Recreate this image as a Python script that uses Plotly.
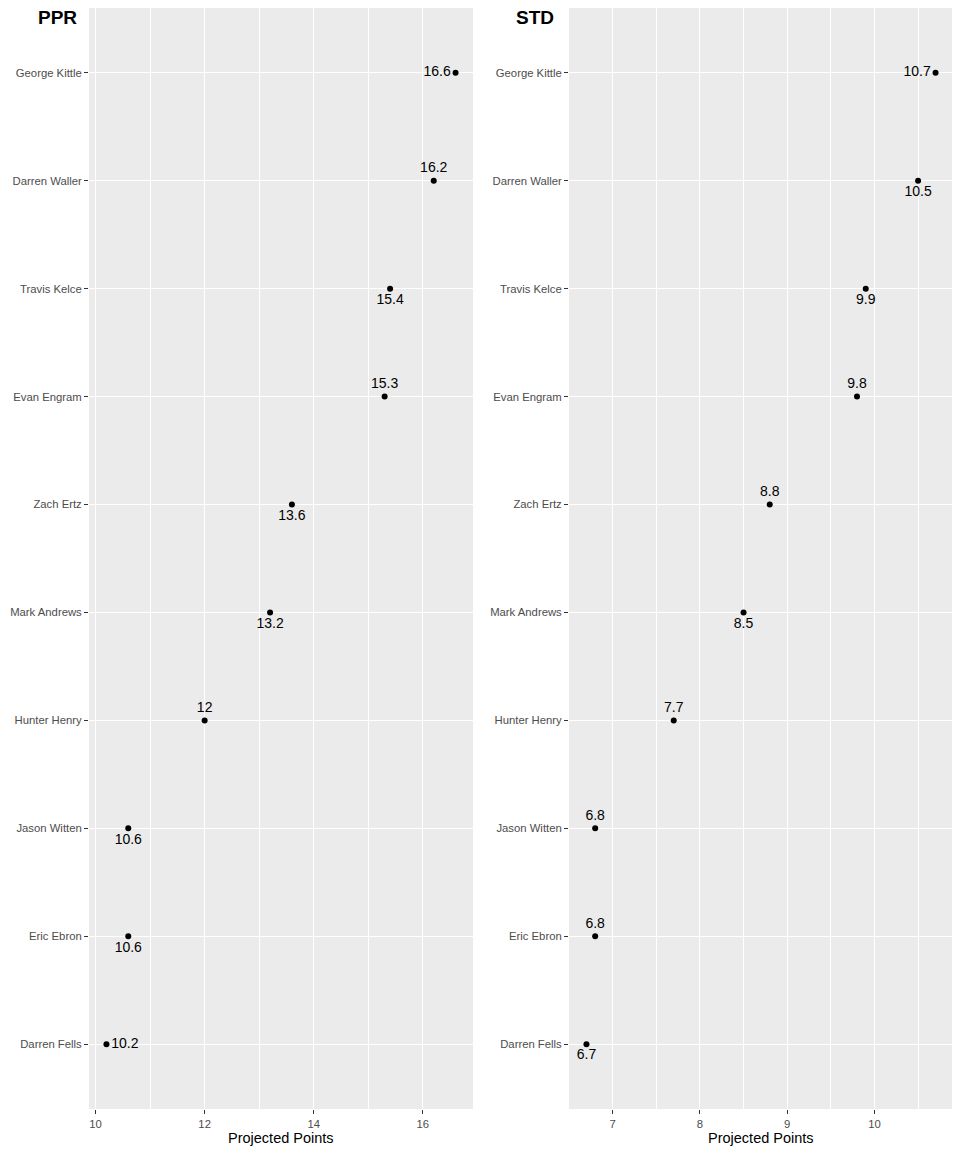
import plotly.graph_objects as go

players = ["George Kittle", "Darren Waller", "Travis Kelce", "Evan Engram", "Zach Ertz",
           "Mark Andrews", "Hunter Henry", "Jason Witten", "Eric Ebron", "Darren Fells"]
ppr = [16.6, 16.2, 15.4, 15.3, 13.6, 13.2, 12.0, 10.6, 10.6, 10.2]
std = [10.7, 10.5, 9.9, 9.8, 8.8, 8.5, 7.7, 6.8, 6.8, 6.7]
ppr_ticks = [10, 12, 14, 16]
std_ticks = [7, 8, 9, 10]
ppr_minor = [11, 13, 15]
std_minor = [7.5, 8.5, 9.5, 10.5]
ppr_label_pos = ["middle left", "top center", "bottom center", "top center", "bottom center",
                 "bottom center", "top center", "bottom center", "bottom center", "middle right"]
std_label_pos = ["middle left", "bottom center", "bottom center", "top center", "top center",
                 "bottom center", "top center", "top center", "top center", "bottom center"]

W, H = 960, 1152
D = 8  # page body margin offset
FONT = "Liberation Sans, Arial, sans-serif"
BG = "#EBEBEB"


def fmt(v):
    return f"{v:g}"


def px(x):
    return (x - D) / W


def py(y):
    return min(1.0, max(0.0, (H - (y - D)) / H))


fig = go.Figure()

panels = [
    ("x", "y", ppr, ppr_label_pos),
    ("x2", "y2", std, std_label_pos),
]
for xa, ya, vals, pos in panels:
    fig.add_trace(go.Scatter(
        x=vals, y=players, xaxis=xa, yaxis=ya, mode="markers+text",
        text=[fmt(v) for v in vals], textposition=pos,
        textfont=dict(family=FONT, size=14, color="black"),
        marker=dict(color="black", size=6), showlegend=False, cliponaxis=False,
    ))

ydom = [py(1109), py(7)]
cat_order = players[::-1]


def xaxis_common(dom, rng, ticks, minor, anchor):
    return dict(
        domain=dom, range=rng, tickvals=ticks, ticktext=[fmt(t) for t in ticks],
        showgrid=True, gridcolor="white", gridwidth=1.1, zeroline=False,
        ticks="outside", ticklen=4, tickcolor="#333333", tickwidth=1,
        tickfont=dict(family=FONT, size=11.3, color="#4D4D4D"),
        minor=dict(tickvals=minor, showgrid=True, gridcolor="white", gridwidth=0.55, ticks=""),
        showline=False, automargin=False, fixedrange=True, anchor=anchor,
    )


def yaxis_common(dom, anchor):
    return dict(
        domain=dom, type="category", categoryorder="array", categoryarray=cat_order,
        range=[-0.6, 9.6], showgrid=True, gridcolor="white", gridwidth=1.1, zeroline=False,
        ticks="outside", ticklen=4, tickcolor="#333333", tickwidth=1,
        tickfont=dict(family=FONT, size=11.3, color="#4D4D4D"), anchor=anchor,
        showline=False, automargin=False, fixedrange=True,
    )


def ann(text, x, y, size):
    return dict(text=text, x=px(x), y=py(y), xref="paper", yref="paper",
                xanchor="center", yanchor="middle", showarrow=False,
                font=dict(family=FONT, size=size, color="black"))


fig.update_layout(
    width=W, height=H, margin=dict(l=0, r=0, t=0, b=0, pad=0),
    paper_bgcolor="white", plot_bgcolor=BG, template="none",
    xaxis=xaxis_common([px(89), px(473)], [9.88, 16.92], ppr_ticks, ppr_minor, "y"),
    yaxis=yaxis_common(ydom, "x"),
    xaxis2=xaxis_common([px(569), px(953)], [6.5, 10.9], std_ticks, std_minor, "y2"),
    yaxis2=yaxis_common(ydom, "x2"),
    annotations=[
        ann("<b>PPR</b>", 57.5, 17, 19),
        ann("<b>STD</b>", 535, 17, 19),
        ann("Projected Points", 281, 1138, 14.5),
        ann("Projected Points", 761, 1138, 14.5),
    ],
)

fig.write_html("out.html")
